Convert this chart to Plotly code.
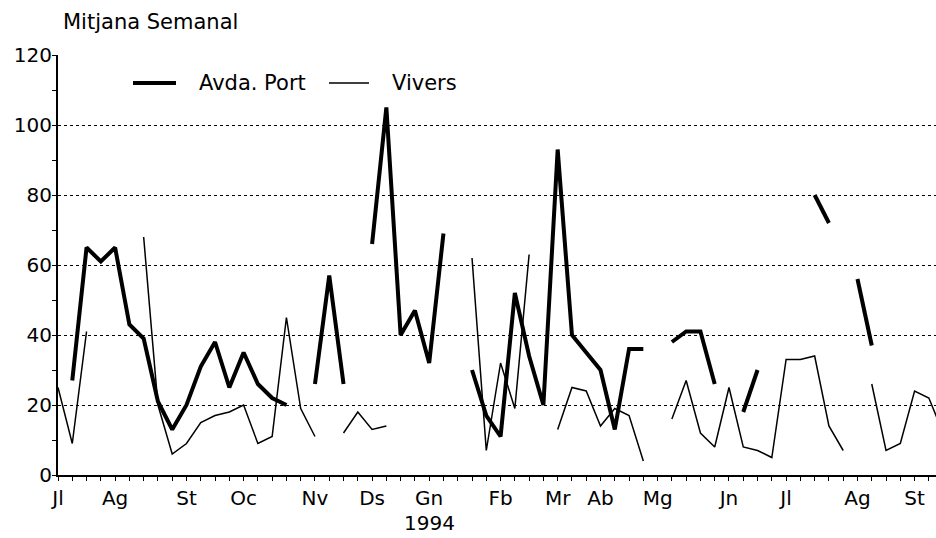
import plotly.graph_objects as go

weeks = list(range(63))

avda_port = [None, 27, 65, 61, 65, 43, 39, 21, 13, 20, 31, 38, 25, 35, 26, 22, 20, None,
             26, 57, 26, None, 66, 105, 40, 47, 32, 69, None,
             30, 17, 11, 52, 34, 20, 93, 40, 35, 30, 13, 36, 36, None,
             38, 41, 41, 26, None, 18, 30, None, None, None, 80, 72, None, 56, 37,
             None, None, None, None, None]

vivers = [25, 9, 41, None, None, None, 68, 20, 6, 9, 15, 17, 18, 20, 9, 11, 45, 19, 11, None,
          12, 18, 13, 14, None, None, None, None, None,
          62, 7, 32, 19, 63, None, 13, 25, 24, 14, 19, 17, 4, None,
          16, 27, 12, 8, 25, 8, 7, 5, 33, 33, 34, 14, 7, None,
          26, 7, 9, 24, 22, 12]

month_labels = ["Jl", "Ag", "St", "Oc", "Nv", "Ds", "Gn", "Fb", "Mr", "Ab", "Mg", "Jn", "Jl", "Ag", "St"]
month_weeks = [0, 4, 9, 13, 18, 22, 26, 31, 35, 38, 42, 47, 51, 56, 60]

y_ticks = [0, 20, 40, 60, 80, 100, 120]

series_names = ["Avda. Port", "Vivers"]
series_widths = [4, 1.5]

FONT = "DejaVu Sans, sans-serif"
FS_TICK = 20
FS_TEXT = 21

L, R, T, B = 58, 0, 55, 63
W, H = 936, 538
PW, PH = W - L - R, H - T - B


def px(xp):
    return (xp - L) / PW


def py(yp):
    return (H - B - yp) / PH


fig = go.Figure()
for name, vals, w in zip(series_names, [avda_port, vivers], series_widths):
    fig.add_trace(go.Scatter(x=weeks, y=vals, mode="lines", name=name,
                             line=dict(color="black", width=w), connectgaps=False,
                             showlegend=False))

# legend drawn as line samples + labels
legend_shapes = []
legend_annots = []
leg_y = py(83)
for (x0, x1, tx), name, w in zip([(133, 176, 197), (329, 369, 390)], series_names, series_widths):
    legend_shapes.append(dict(type="line", xref="paper", yref="paper",
                              x0=px(x0), x1=px(x1), y0=leg_y, y1=leg_y,
                              line=dict(color="black", width=w)))
    legend_annots.append(dict(text=name, xref="paper", yref="paper", x=px(tx), y=leg_y,
                              xanchor="left", yanchor="middle", showarrow=False,
                              font=dict(size=FS_TEXT)))

fig.update_layout(
    width=W, height=H,
    margin=dict(l=L, r=R, t=T, b=B),
    plot_bgcolor="white", paper_bgcolor="white",
    font=dict(family=FONT, size=FS_TICK, color="black"),
    showlegend=False,
    xaxis=dict(range=[0, 61.5], showgrid=False, zeroline=False, automargin=False,
               showline=True, linecolor="black", linewidth=2,
               tickmode="array", tickvals=month_weeks, ticktext=month_labels,
               ticks="",
               minor=dict(tickmode="linear", tick0=0, dtick=1, ticks="outside",
                          ticklen=4, tickwidth=1, tickcolor="black"),
               ticklabelstandoff=4, tickfont=dict(size=FS_TICK)),
    yaxis=dict(range=[0, 120], tickmode="array", tickvals=y_ticks, automargin=False,
               showgrid=True, gridcolor="black", griddash="dot", gridwidth=1,
               zeroline=False, showline=True, linecolor="black", linewidth=2,
               ticks="",
               minor=dict(tickmode="linear", tick0=0, dtick=10, ticks="outside",
                          ticklen=4, tickwidth=1, tickcolor="black", showgrid=False),
               ticklabelstandoff=0, tickfont=dict(size=FS_TICK)),
    shapes=legend_shapes,
    annotations=legend_annots + [
        dict(text="Mitjana Semanal", xref="paper", yref="paper", x=px(61), y=py(22),
             xanchor="left", yanchor="middle", showarrow=False, font=dict(size=FS_TEXT)),
        dict(text="1994", xref="x", yref="paper", x=26, y=py(523),
             xanchor="center", yanchor="middle", showarrow=False, font=dict(size=FS_TICK)),
    ],
)

fig.write_html("out.html", config={"displayModeBar": False},
               post_script="document.body.style.margin='0';document.body.style.overflow='hidden';")
